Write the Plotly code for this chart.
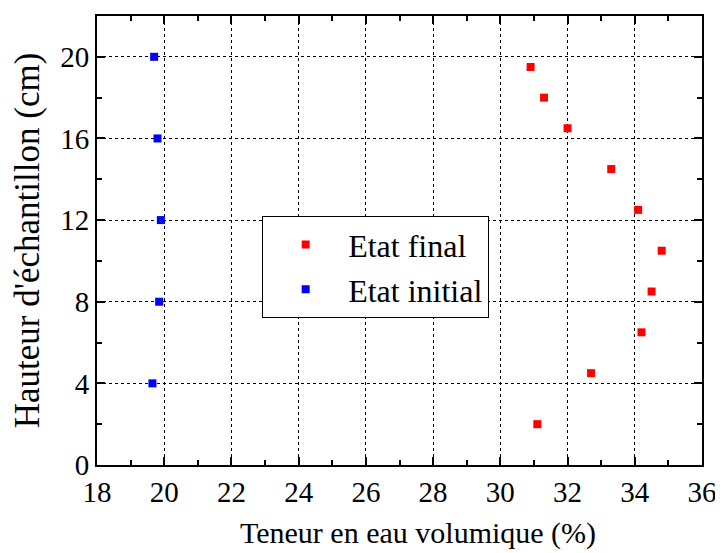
import plotly.graph_objects as go

final_x = [30.9, 31.3, 32.0, 33.3, 34.1, 34.8, 34.5, 34.2, 32.7, 31.1]
final_y = [19.5, 18.0, 16.5, 14.5, 12.5, 10.5, 8.5, 6.5, 4.5, 2.0]
init_x = [19.7, 19.8, 19.9, 19.85, 19.65]
init_y = [20, 16, 12, 8, 4]

FONT = "Liberation Serif"

fig = go.Figure()
fig.add_trace(go.Scatter(x=final_x, y=final_y, mode="markers", name="Etat final",
                         marker=dict(symbol="square", size=8, color="#ff0000")))
fig.add_trace(go.Scatter(x=init_x, y=init_y, mode="markers", name="Etat initial",
                         marker=dict(symbol="square", size=8, color="#0000ff")))

axis_common = dict(
    showline=True, linecolor="black", linewidth=2, mirror="ticks",
    ticks="inside", ticklen=8, tickwidth=2, tickcolor="black",
    showgrid=True, gridcolor="black", gridwidth=1, griddash="dot",
    zeroline=False,
    tickfont=dict(family=FONT, size=29, color="black"),
)

fig.update_xaxes(range=[18, 36], dtick=2,
                 minor=dict(ticks="inside", dtick=1, ticklen=5, tickwidth=2, tickcolor="black", showgrid=False),
                 **axis_common)
fig.update_yaxes(range=[0, 22], dtick=4, title=dict(text="Hauteur d'échantillon (cm)",
                 font=dict(family=FONT, size=35, color="black"), standoff=12),
                 minor=dict(ticks="inside", dtick=2, ticklen=5, tickwidth=2, tickcolor="black", showgrid=False),
                 **axis_common)

fig.add_annotation(text="Teneur en eau volumique (%)", xref="paper", yref="paper",
                   x=0.53, y=0, yshift=-68, xanchor="center", yanchor="middle",
                   showarrow=False, font=dict(family=FONT, size=30, color="black"),
                   borderpad=0)

fig.update_layout(
    width=715, height=545,
    margin=dict(l=89, r=18, t=6, b=88),
    plot_bgcolor="white", paper_bgcolor="white",
    font=dict(family=FONT, color="black"),
    legend=dict(x=0.273, y=0.554, xanchor="left", yanchor="top",
                bgcolor="white", bordercolor="black", borderwidth=1,
                font=dict(family=FONT, size=32, color="black"),
                itemwidth=75),
)

fig.write_html("out.html")
